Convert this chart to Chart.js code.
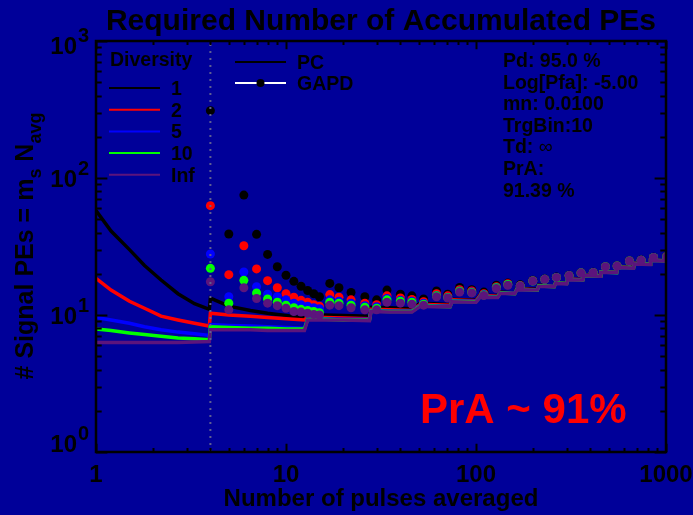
<!DOCTYPE html>
<html>
<head>
<meta charset="utf-8">
<title>Required Number of Accumulated PEs</title>
<script src="https://cdn.jsdelivr.net/npm/chart.js@4.4.1/dist/chart.umd.min.js"></script>
<style>
  html, body { margin: 0; padding: 0; background: #000099; }
  canvas { display: block; }
</style>
</head>
<body>
<canvas id="grafico" width="693" height="515"></canvas>
<script>
// PC curves: number of pulses averaged (shared x values)
const linePulses = [1, 1.2, 1.5, 1.8, 2.2, 2.7, 3.3, 3.95,
  4, 5, 6.5, 8, 10, 12.5,
  13, 16, 20, 27.5,
  28, 35, 46,
  51, 60, 73,
  75, 100, 105, 130, 134, 160, 164, 210, 214, 258, 262, 300, 303, 365, 370, 450, 454, 550, 555, 675, 680, 825, 829, 975, 980, 1000];

const pcDiv1 = [58, 41, 30, 23, 18, 14.3, 12.1, 11.0,
  13.3, 11.6, 10.8, 10.3, 9.9, 9.5,
  10.1, 10.0, 9.9, 9.8,
  11.4, 11.3, 11.1,
  12.2, 12.1, 11.9,
  13.0, 12.8, 14.0, 13.8, 14.7, 14.5, 15.6, 15.4, 16.5, 16.3, 17.2, 17.1, 18.3, 18.1, 19.6, 19.4, 20.7, 20.5, 22.5, 22.2, 23.8, 23.5, 25.2, 24.9, 27.4, 28.0];
const pcDiv2 = [18.5, 15.2, 12.6, 11.2, 9.8, 9.2, 8.7, 8.3,
  10.3, 10.0, 9.8, 9.6, 9.4, 9.2,
  9.7, 9.6, 9.5, 9.4,
  11.0, 10.9, 10.8,
  12.0, 11.9, 11.8,
  12.9, 12.7, 13.9, 13.7, 14.6, 14.4, 15.5, 15.3, 16.4, 16.2, 17.2, 17.0, 18.3, 18.1, 19.5, 19.4, 20.7, 20.5, 22.4, 22.2, 23.8, 23.5, 25.2, 24.9, 27.4, 28.0];
const pcDiv5 = [9.6, 9.2, 8.7, 8.2, 7.8, 7.5, 7.3, 7.1,
  8.5, 8.4, 8.3, 8.2, 8.1, 8.0,
  9.4, 9.4, 9.3, 9.3,
  10.8, 10.7, 10.7,
  11.8, 11.7, 11.6,
  12.7, 12.6, 13.7, 13.6, 14.5, 14.4, 15.4, 15.2, 16.3, 16.2, 17.1, 17.0, 18.2, 18.0, 19.5, 19.3, 20.6, 20.4, 22.3, 22.1, 23.7, 23.5, 25.1, 24.9, 27.3, 28.0];
const pcDiv10 = [7.9, 7.7, 7.4, 7.2, 7.0, 6.8, 6.7, 6.6,
  8.2, 8.1, 8.0, 8.0, 7.9, 7.9,
  9.3, 9.3, 9.2, 9.2,
  10.7, 10.6, 10.6,
  11.7, 11.6, 11.5,
  12.6, 12.5, 13.6, 13.5, 14.5, 14.3, 15.4, 15.2, 16.3, 16.1, 17.1, 17.0, 18.2, 18.0, 19.4, 19.3, 20.6, 20.4, 22.3, 22.1, 23.7, 23.5, 25.1, 24.9, 27.3, 28.0];
const pcDivInf = [6.3, 6.3, 6.3, 6.3, 6.3, 6.3, 6.35, 6.4,
  7.8, 7.8, 7.8, 7.7, 7.7, 7.7,
  9.2, 9.2, 9.2, 9.1,
  10.6, 10.5, 10.5,
  11.6, 11.5, 11.5,
  12.5, 12.4, 13.5, 13.4, 14.4, 14.3, 15.3, 15.2, 16.2, 16.1, 17.0, 16.9, 18.1, 18.0, 19.4, 19.2, 20.5, 20.4, 22.2, 22.0, 23.6, 23.4, 25.0, 24.8, 27.2, 27.9];

// GAPD points
const gapdPulses = [4, 5, 6, 7, 8, 9, 10, 11, 12, 13, 14, 15,
  17, 19, 22, 26, 30, 34, 40, 46, 53, 62,
  71, 82, 95, 110, 128, 147, 171, 199, 230, 265, 309, 357, 414, 480, 553, 642, 740, 860];

const gapdDiv1 = [310, 39, 75, 38.8, 27.7, 22.5, 19.5, 17.6, 16.2, 15.1, 14.3, 13.6,
  17.0, 15.8, 14.6, 13.6, 12.9, 15.2, 14.2, 13.8, 13.1, 15.0,
  14.2, 15.9, 15.3, 14.7, 16.5, 17.1, 16.6, 17.9, 18.3, 18.9, 19.5, 20.4, 20.5, 22.6, 22.9, 24.9, 25.2, 26.4];
const gapdDiv2 = [62.8, 19.7, 32, 21.7, 17.8, 15.8, 14.3, 13.5, 12.8, 12.4, 11.9, 11.6,
  14.1, 13.5, 12.9, 12.2, 11.9, 13.8, 13.3, 13.0, 12.5, 14.3,
  13.8, 15.3, 15.0, 14.3, 16.1, 16.9, 16.4, 17.8, 18.2, 18.8, 19.4, 20.3, 20.4, 22.5, 22.8, 24.8, 25.1, 26.3];
const gapdDiv5 = [27.9, 13.6, 20.6, 16.1, 14.2, 13.6, 12.9, 12.2, 11.9, 11.6, 11.3, 11.1,
  12.9, 12.6, 12.2, 11.7, 11.5, 13.2, 12.8, 12.6, 12.2, 13.9,
  13.5, 15.0, 14.7, 14.1, 15.9, 16.7, 16.3, 17.7, 18.2, 18.8, 19.4, 20.3, 20.4, 22.5, 22.8, 24.8, 25.1, 26.3];
const gapdDiv10 = [21.9, 12.2, 17.9, 14.5, 13.1, 12.4, 11.8, 11.3, 11.0, 10.8, 10.6, 10.4,
  12.4, 12.2, 11.8, 11.4, 11.2, 12.9, 12.6, 12.4, 12.0, 13.8,
  13.4, 14.9, 14.6, 14.0, 15.8, 16.7, 16.3, 17.7, 18.2, 18.8, 19.4, 20.3, 20.4, 22.5, 22.8, 24.8, 25.1, 26.3];
const gapdDivInf = [17.5, 10.9, 15.8, 13.2, 12.2, 11.7, 11.2, 10.6, 10.5, 10.3, 10.1, 10.0,
  11.8, 11.7, 11.3, 10.9, 10.9, 12.4, 12.2, 12.0, 11.8, 13.6,
  13.3, 14.7, 14.5, 13.9, 15.6, 16.5, 16.3, 17.7, 18.2, 18.8, 19.4, 20.3, 20.4, 22.5, 22.8, 24.8, 25.1, 26.3];

const xTicks = [1, 10, 100, 1000];
const xTickLabels = ['1', '10', '100', '1000'];
const yTicks = [1, 10, 100, 1000];
const yTickExps = ['0', '1', '2', '3'];

const diversityLabels = ['1', '2', '5', '10', 'Inf'];
const diversityColors = ['#000000', '#ff0000', '#0000ff', '#00ff00', '#5c147c'];
const infoLines = ['Pd: 95.0 %', 'Log[Pfa]: -5.00', 'mn: 0.0100', 'TrgBin:10', 'Td: ', 'PrA:', '91.39 %'];
const trigPulses = 4;

const BG = '#000099';
const fnt = (size, weight) => (weight || 'bold') + ' ' + size + 'px "Liberation Sans", Arial, sans-serif';

const pcSets = [pcDiv1, pcDiv2, pcDiv5, pcDiv10, pcDivInf];
const gapdSets = [gapdDiv1, gapdDiv2, gapdDiv5, gapdDiv10, gapdDivInf];

const datasets = [];
pcSets.forEach(function(vals, i) {
    datasets.push({
        label: 'PC ' + diversityLabels[i],
        data: linePulses.map((p, k) => ({ x: p, y: vals[k] })),
        showLine: true,
        borderColor: diversityColors[i],
        borderWidth: 3.5,
        pointRadius: 0,
        order: 20 - 2 * i
    });
    datasets.push({
        label: 'GAPD ' + diversityLabels[i],
        data: gapdPulses.map((p, k) => ({ x: p, y: gapdSets[i][k] })),
        showLine: false,
        backgroundColor: diversityColors[i],
        borderWidth: 0,
        pointRadius: 4.5,
        order: 19 - 2 * i
    });
});
// dotted marker at the trigger bin
datasets.push({
    label: 'trig',
    data: [{ x: trigPulses, y: 1 }, { x: trigPulses, y: 1000 }],
    showLine: true,
    borderColor: '#5e5e92',
    borderWidth: 2,
    borderDash: [2, 5],
    pointRadius: 0,
    order: 0
});

// baseline offset of each 10^n label relative to its tick
const yLabelShift = v => (v === 1 ? 0 : v === 1000 ? 13 : 9);

const decor = {
    id: 'decor',
    beforeDraw(chart) {
        const ctx = chart.ctx;
        ctx.save();
        ctx.fillStyle = BG;
        ctx.fillRect(0, 0, chart.width, chart.height);
        ctx.restore();
    },
    afterDraw(chart) {
        const ctx = chart.ctx;
        const a = chart.chartArea;
        const sx = chart.scales.x, sy = chart.scales.y;
        ctx.save();
        ctx.fillStyle = '#000';
        ctx.strokeStyle = '#000';

        // frame + ticks on all four sides
        ctx.lineWidth = 2.5;
        ctx.strokeRect(a.left, a.top, a.right - a.left, a.bottom - a.top);
        const xLen = (a.bottom - a.top) * 0.02;
        const yLen = (a.right - a.left) * 0.02;
        ctx.lineWidth = 2;
        ctx.beginPath();
        for (let dec = 1; dec <= 1000; dec *= 10) {
            for (let m = 1; m < 10; m++) {
                const v = dec * m;
                if (v > 1000) break;
                const lx = m === 1 ? xLen : xLen / 2;
                const ly = m === 1 ? yLen : yLen / 2;
                const px = Math.round(sx.getPixelForValue(v)) + 0.5;
                const py = Math.round(sy.getPixelForValue(v)) + 0.5;
                ctx.moveTo(px, a.bottom); ctx.lineTo(px, a.bottom - lx);
                ctx.moveTo(px, a.top); ctx.lineTo(px, a.top + lx);
                ctx.moveTo(a.left, py); ctx.lineTo(a.left + ly, py);
                ctx.moveTo(a.right, py); ctx.lineTo(a.right - ly, py);
            }
        }
        ctx.stroke();

        // title
        ctx.font = fnt(30);
        ctx.textAlign = 'center';
        ctx.textBaseline = 'alphabetic';
        ctx.fillText('Required Number of Accumulated PEs', 381, 30);

        // x tick labels and title
        ctx.font = fnt(24);
        xTicks.forEach((v, i) => ctx.fillText(xTickLabels[i], sx.getPixelForValue(v), 482));
        ctx.fillText('Number of pulses averaged', 381, 506);

        // y tick labels 10^n
        yTicks.forEach((v, i) => {
            const py = sy.getPixelForValue(v) + yLabelShift(v);
            ctx.font = fnt(24);
            ctx.textAlign = 'right';
            ctx.fillText('10', 77, py);
            ctx.font = fnt(20);
            ctx.textAlign = 'left';
            ctx.fillText(yTickExps[i], 78, py - 12);
        });

        // y axis title with subscripts
        ctx.save();
        ctx.translate(33, 246);
        ctx.rotate(-Math.PI / 2);
        const parts = [['# Signal PEs = m', 25, 0], ['s', 18, 8], [' N', 25, 0], ['avg', 18, 8]];
        let total = 0;
        parts.forEach(p => { ctx.font = fnt(p[1]); total += ctx.measureText(p[0]).width; });
        let cx = -total / 2;
        ctx.textAlign = 'left';
        parts.forEach(p => {
            ctx.font = fnt(p[1]);
            ctx.fillText(p[0], cx, p[2]);
            cx += ctx.measureText(p[0]).width;
        });
        ctx.restore();

        // diversity legend
        ctx.font = fnt(19.5);
        ctx.textAlign = 'left';
        ctx.fillText('Diversity', 110, 66);
        ctx.lineWidth = 2;
        diversityLabels.forEach((lab, i) => {
            const ly = 88 + i * 21.7;
            ctx.strokeStyle = diversityColors[i];
            ctx.beginPath();
            ctx.moveTo(109, ly); ctx.lineTo(160, ly);
            ctx.stroke();
            ctx.fillStyle = '#000';
            ctx.fillText(lab, 171, ly + 7);
        });

        // PC / GAPD legend
        ctx.strokeStyle = '#000';
        ctx.beginPath();
        ctx.moveTo(235, 62); ctx.lineTo(286, 62);
        ctx.stroke();
        ctx.fillText('PC', 297, 68.5);
        ctx.strokeStyle = '#ffffff';
        ctx.beginPath();
        ctx.moveTo(235, 83); ctx.lineTo(286, 83);
        ctx.stroke();
        ctx.beginPath();
        ctx.arc(260.5, 83, 4, 0, Math.PI * 2);
        ctx.fill();
        ctx.fillText('GAPD', 297, 90);

        // parameter block
        infoLines.forEach((t, i) => {
            const by = 67 + i * 21.6;
            ctx.font = fnt(19.5);
            ctx.fillText(t, 503, by);
            if (t === 'Td: ') {
                const w = ctx.measureText(t).width;
                ctx.font = fnt(19.5, 'normal');
                ctx.fillText('\u221e', 503 + w, by);
            }
        });

        // PrA annotation
        ctx.font = fnt(42);
        ctx.fillStyle = '#ff0000';
        ctx.fillText('PrA ~ 91%', 420, 423);

        ctx.restore();
    }
};

new Chart(document.getElementById('grafico').getContext('2d'), {
    type: 'scatter',
    data: { datasets: datasets },
    options: {
        responsive: false,
        animation: false,
        events: [],
        layout: { padding: { left: 96, right: 27, top: 41, bottom: 63 } },
        plugins: {
            legend: { display: false },
            tooltip: { enabled: false }
        },
        elements: { line: { tension: 0 } },
        scales: {
            x: { type: 'logarithmic', min: 1, max: 1000, display: false },
            y: { type: 'logarithmic', min: 1, max: 1000, display: false }
        }
    },
    plugins: [decor]
});
</script>
</body>
</html>
